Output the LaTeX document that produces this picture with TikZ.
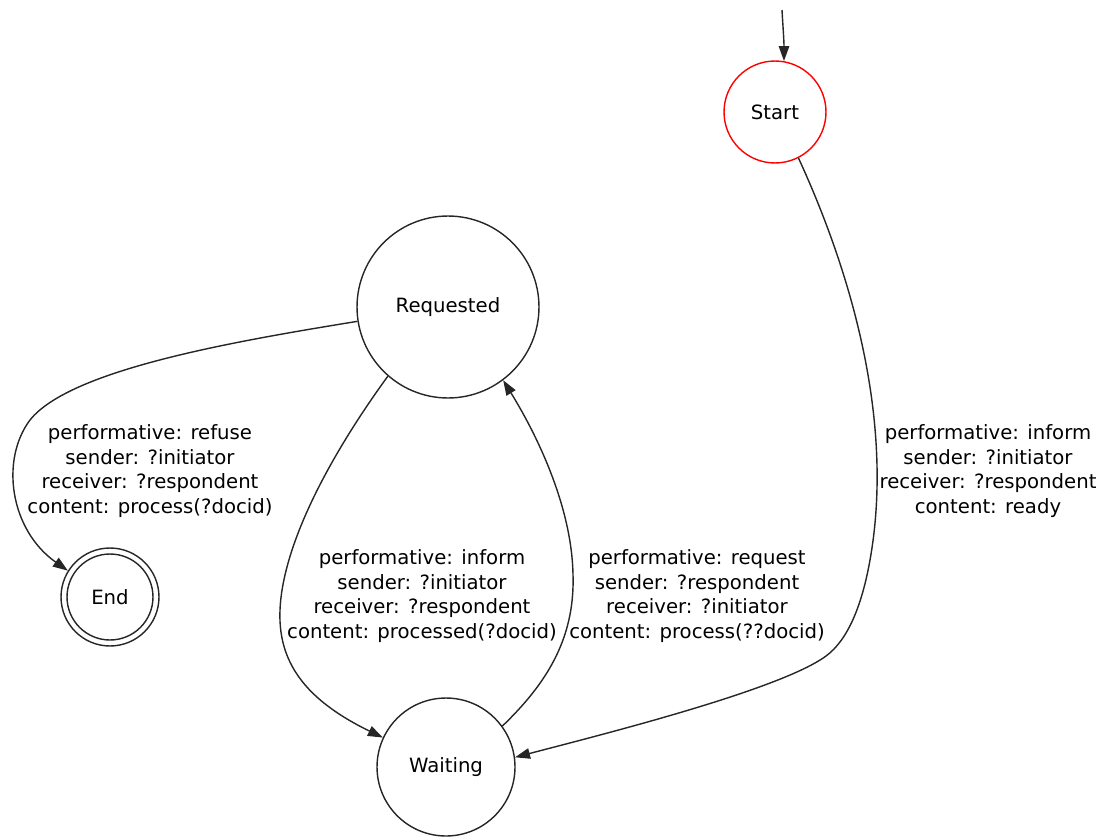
\documentclass[tikz,border=0pt]{standalone}
\usepackage{fontspec}
\setmainfont{DejaVu Sans}
\usetikzlibrary{arrows.meta}
\begin{document}
\begin{tikzpicture}[x=0.02cm, y=-0.02cm,
  font=\fontsize{11.2}{14}\selectfont,
  state/.style={circle, draw=black!85, line width=0.8pt, inner sep=0pt},
  edge/.style={draw=black!85, line width=0.8pt,
    -{Triangle[length=0.3cm, width=0.21cm]}},
  lbl/.style={align=center, inner sep=0pt}]
\useasboundingbox (0,0) rectangle (1108,838);

% states
\node[state, draw=red, minimum size=2.04cm] (Start) at (775,112) {Start};
\node[state, minimum size=3.64cm] (Requested) at (448,307) {Requested};
\node[state, minimum size=2.76cm] (Waiting) at (446,767) {Waiting};
\node[state, minimum size=1.96cm] (End) at (110,597) {End};
\draw[black!85, line width=0.8pt] (End.center) circle (0.86cm);

% initial arrow
\coordinate (init) at (782,10);
\draw[edge] (init) .. controls (783,28) and (784,40) .. (Start.80);

% Start -> Waiting
\draw[edge] (Start.-63) .. controls (850,270) and (895,420) .. (870,560)
  .. controls (862,605) and (848,640) .. (826,656)
  .. controls (780,690) and (600,735) .. (Waiting.8);
\node[lbl] (l1) at (988,471) {performative: inform\\sender: ?initiator\\receiver: ?respondent\\content: ready};

% Requested -> End
\draw[edge] (Requested.189) .. controls (230,342) and (70,370) .. (30,420)
  .. controls (0,460) and (10,530) .. (End.148);
\node[lbl] (l2) at (150,471) {performative: refuse\\sender: ?initiator\\receiver: ?respondent\\content: process(?docid)};

% Requested -> Waiting
\draw[edge] (Requested.229) .. controls (345,435) and (300,510) .. (285,575)
  .. controls (270,640) and (285,690) .. (Waiting.155);
\node[lbl] (l3) at (422,596) {performative: inform\\sender: ?initiator\\receiver: ?respondent\\content: processed(?docid)};

% Waiting -> Requested
\draw[edge] (Waiting.36) .. controls (545,685) and (575,640) .. (573,575)
  .. controls (572,510) and (540,440) .. (Requested.-53);
\node[lbl] (l4) at (697,596) {performative: request\\sender: ?respondent\\receiver: ?initiator\\content: process(??docid)};
\end{tikzpicture}
\end{document}
